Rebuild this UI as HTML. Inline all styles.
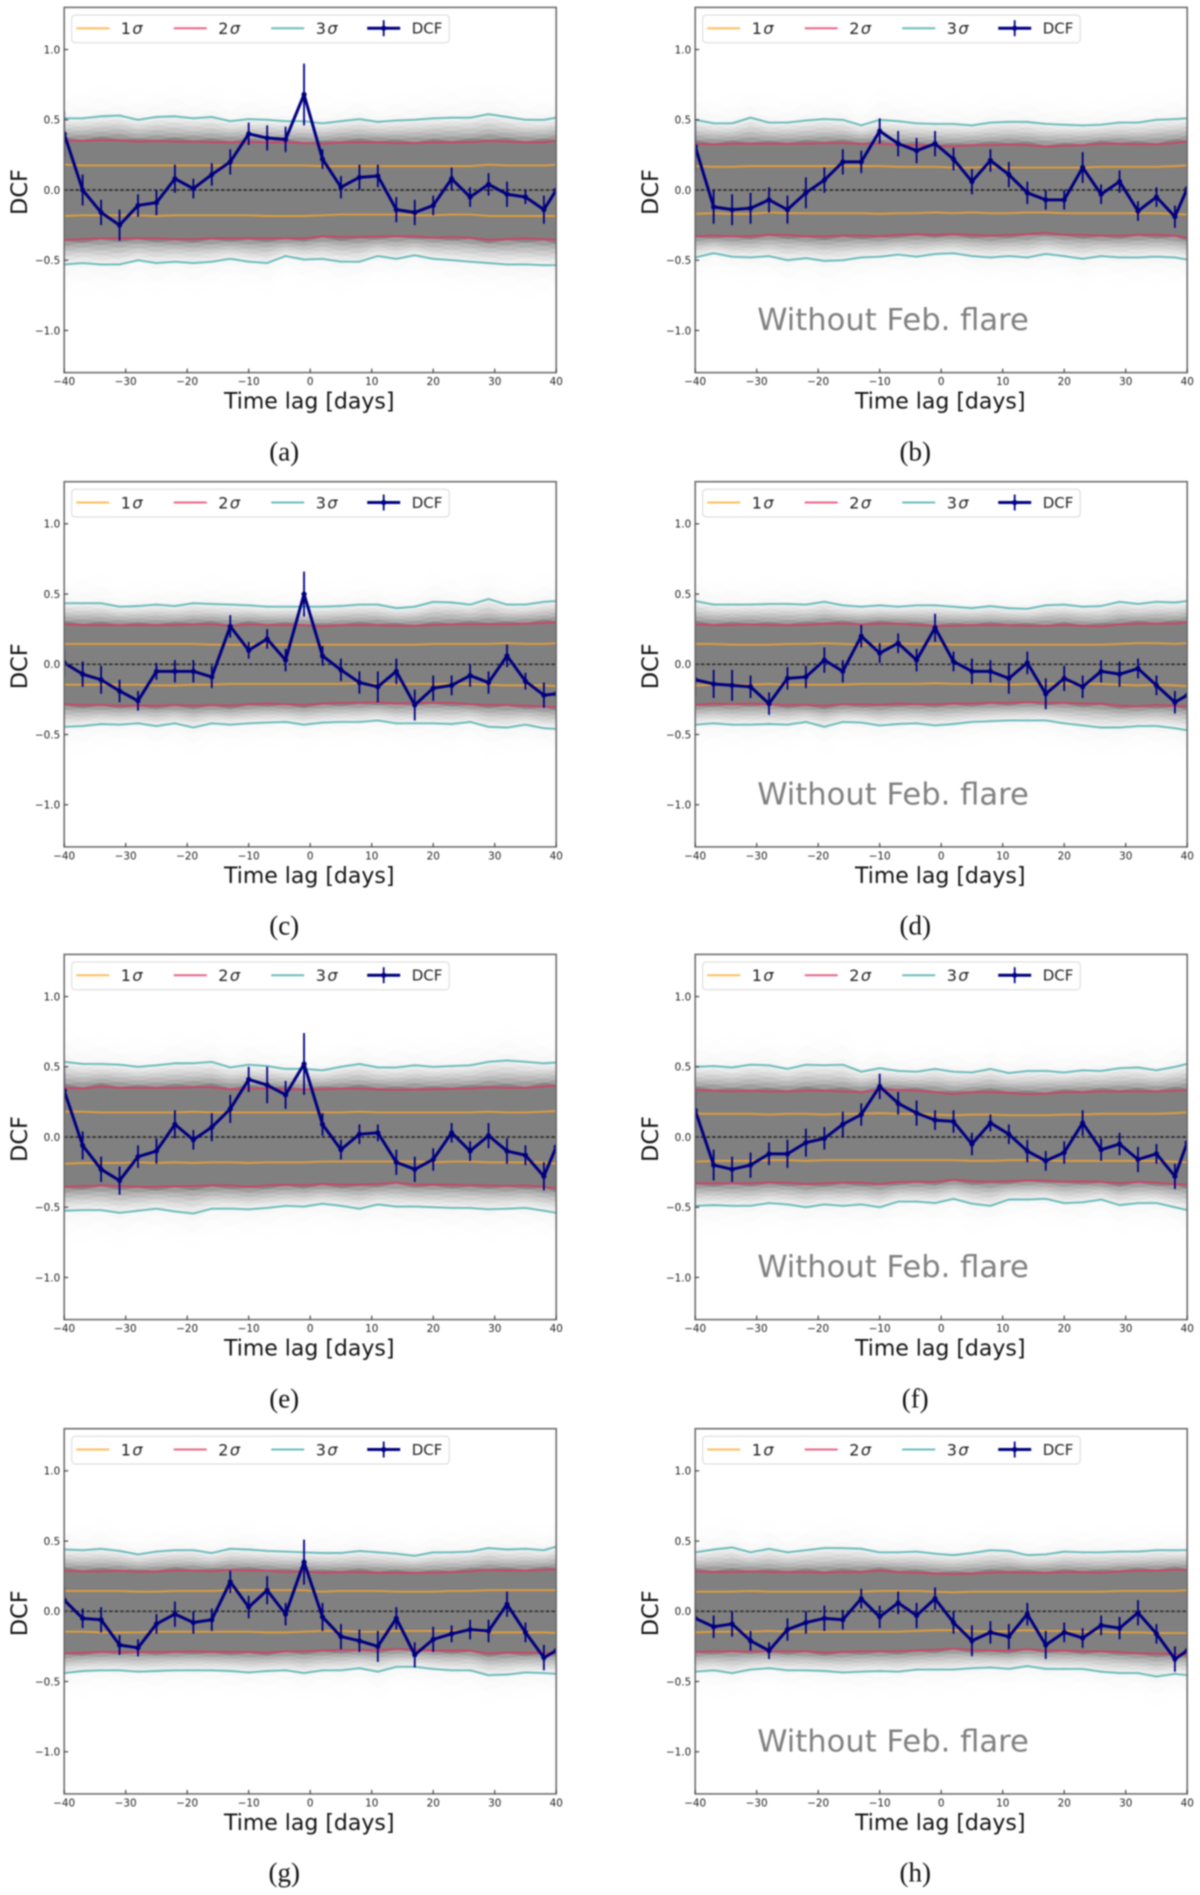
<!DOCTYPE html>
<html lang="en">
<head>
<meta charset="utf-8">
<title>DCF panels</title>
<style>
html,body{margin:0;padding:0;background:#fff;}
svg{display:block;filter:blur(0.7px);}
text{font-family:"DejaVu Sans","Liberation Sans",sans-serif;}
</style>
</head>
<body>
<svg id="fig" xmlns="http://www.w3.org/2000/svg" width="1200" height="1895" viewBox="0 0 1200 1895"></svg>
<script>
const lags=[-40,-37,-34,-31,-28,-25,-22,-19,-16,-13,-10,-7,-4,-1,2,5,8,11,14,17,20,23,26,29,32,35,38,40];
const xTicks=[-40,-30,-20,-10,0,10,20,30,40];
const yTicks=[-1,-0.5,0,0.5,1];
const yTickLabels=['\u22121.0','\u22120.5','0.0','0.5','1.0'];
const xLimits=[-40,40];
const yLimits=[-1.3,1.3];

const dcfA=[.40,0,-.16,-.25,-.11,-.09,.08,.01,.11,.20,.40,.37,.36,.68,.22,.02,.09,.10,-.14,-.16,-.11,.08,-.05,.04,-.03,-.05,-.14,0];
const errA=[.16,.11,.09,.11,.08,.09,.10,.07,.08,.09,.08,.09,.09,.22,.07,.08,.09,.08,.09,.09,.07,.08,.07,.08,.09,.05,.10,0];
const s3upA=[.51,.51,.525,.53,.50,.52,.525,.51,.52,.49,.505,.50,.49,.49,.475,.49,.505,.485,.495,.50,.51,.515,.515,.54,.52,.50,.50,.515];
const s3loA=[-.53,-.52,-.53,-.53,-.50,-.52,-.51,-.52,-.51,-.49,-.51,-.52,-.47,-.495,-.49,-.51,-.51,-.47,-.49,-.465,-.49,-.50,-.51,-.52,-.53,-.53,-.535,-.535];
const s2upA=[.35,.35,.355,.355,.345,.35,.345,.345,.34,.34,.34,.34,.34,.335,.33,.34,.34,.34,.335,.335,.34,.34,.34,.35,.345,.34,.34,.35];
const s2loA=[-.355,-.35,-.345,-.345,-.345,-.345,-.35,-.35,-.345,-.345,-.345,-.345,-.345,-.345,-.33,-.335,-.335,-.33,-.33,-.33,-.34,-.335,-.34,-.355,-.35,-.345,-.35,-.355];
const s1upA=[.18,.175,.175,.175,.175,.175,.175,.175,.175,.175,.175,.175,.175,.175,.17,.17,.17,.17,.17,.17,.17,.17,.17,.18,.175,.175,.175,.18];
const s1loA=[-.185,-.18,-.18,-.18,-.18,-.185,-.18,-.18,-.18,-.18,-.18,-.185,-.185,-.185,-.18,-.175,-.175,-.175,-.175,-.18,-.18,-.175,-.175,-.185,-.185,-.185,-.185,-.185];

const dcfB=[.31,-.12,-.14,-.13,-.07,-.14,-.02,.07,.20,.20,.42,.33,.28,.33,.22,.06,.21,.11,-.02,-.07,-.07,.16,-.03,.06,-.15,-.05,-.19,.01];
const errB=[.18,.12,.11,.11,.09,.10,.11,.09,.09,.08,.09,.09,.09,.09,.08,.09,.08,.09,.08,.07,.07,.11,.07,.08,.07,.07,.08,0];
const s3upB=[.50,.475,.475,.515,.48,.48,.495,.505,.50,.46,.50,.49,.475,.47,.47,.46,.48,.485,.485,.47,.465,.46,.465,.48,.48,.50,.505,.51];
const s3loB=[-.48,-.45,-.475,-.48,-.47,-.50,-.485,-.505,-.50,-.48,-.475,-.46,-.475,-.455,-.45,-.47,-.48,-.47,-.48,-.455,-.47,-.49,-.47,-.48,-.48,-.475,-.48,-.495];
const s2upB=[.33,.325,.33,.33,.33,.33,.33,.335,.335,.33,.33,.32,.32,.315,.31,.32,.32,.325,.32,.31,.315,.32,.33,.33,.325,.325,.335,.345];
const s2loB=[-.33,-.325,-.33,-.33,-.32,-.32,-.33,-.33,-.325,-.325,-.33,-.32,-.315,-.32,-.315,-.32,-.325,-.32,-.315,-.305,-.32,-.32,-.325,-.325,-.32,-.32,-.325,-.34];
const s1upB=[.17,.165,.165,.17,.17,.17,.17,.17,.17,.17,.17,.165,.165,.165,.16,.16,.165,.16,.16,.16,.16,.16,.165,.165,.165,.165,.17,.175];
const s1loB=[-.17,-.165,-.17,-.17,-.16,-.165,-.165,-.165,-.165,-.165,-.17,-.165,-.165,-.16,-.165,-.16,-.165,-.165,-.16,-.16,-.165,-.165,-.165,-.165,-.165,-.165,-.17,-.175];

const dcfC=[.01,-.07,-.11,-.19,-.26,-.05,-.05,-.05,-.09,.27,.10,.18,.03,.50,.06,-.04,-.13,-.16,-.05,-.29,-.17,-.15,-.08,-.13,.06,-.12,-.22,-.21];
const errC=[.10,.09,.10,.08,.07,.06,.08,.08,.08,.08,.06,.07,.08,.16,.07,.08,.08,.11,.09,.11,.09,.07,.08,.08,.08,.06,.09,0];
const s3upC=[.435,.435,.435,.41,.415,.425,.415,.435,.43,.425,.42,.41,.41,.41,.41,.415,.425,.425,.40,.41,.445,.44,.425,.465,.425,.425,.445,.45];
const s3loC=[-.445,-.44,-.425,-.43,-.42,-.44,-.42,-.45,-.42,-.43,-.42,-.415,-.41,-.43,-.415,-.41,-.41,-.40,-.42,-.42,-.42,-.425,-.41,-.445,-.45,-.43,-.455,-.46];
const s2upC=[.285,.28,.28,.28,.28,.28,.28,.285,.285,.275,.285,.28,.28,.28,.27,.28,.28,.28,.275,.275,.28,.285,.285,.285,.285,.29,.295,.30];
const s2loC=[-.285,-.29,-.29,-.295,-.295,-.295,-.29,-.295,-.29,-.295,-.285,-.28,-.285,-.29,-.28,-.275,-.275,-.27,-.28,-.275,-.275,-.275,-.285,-.29,-.29,-.295,-.30,-.305];
const s1upC=[.145,.145,.145,.145,.145,.145,.145,.145,.14,.14,.14,.14,.14,.14,.14,.14,.14,.14,.14,.14,.145,.145,.145,.145,.15,.145,.145,.15];
const s1loC=[-.145,-.145,-.145,-.145,-.145,-.15,-.15,-.145,-.145,-.14,-.14,-.14,-.14,-.14,-.14,-.14,-.135,-.14,-.14,-.14,-.14,-.14,-.14,-.145,-.15,-.15,-.15,-.155];

const dcfD=[-.11,-.14,-.15,-.16,-.28,-.10,-.09,.03,-.05,.20,.08,.15,.03,.26,.02,-.05,-.05,-.10,.01,-.21,-.10,-.16,-.05,-.07,-.03,-.15,-.27,-.22];
const errD=[.12,.10,.11,.08,.08,.08,.08,.09,.08,.08,.07,.07,.08,.10,.07,.09,.08,.11,.08,.11,.09,.08,.08,.09,.07,.07,.08,0];
const s3upD=[.45,.425,.425,.425,.43,.43,.425,.445,.42,.41,.42,.41,.42,.42,.41,.40,.415,.40,.395,.42,.425,.41,.415,.445,.43,.445,.44,.45];
const s3loD=[-.43,-.42,-.43,-.43,-.425,-.43,-.41,-.445,-.41,-.415,-.435,-.425,-.42,-.435,-.425,-.41,-.405,-.40,-.40,-.40,-.42,-.435,-.45,-.45,-.44,-.44,-.455,-.47];
const s2upD=[.285,.28,.28,.285,.28,.28,.28,.29,.29,.285,.29,.29,.28,.275,.275,.28,.28,.28,.275,.275,.28,.275,.27,.285,.29,.29,.29,.30];
const s2loD=[-.29,-.28,-.285,-.28,-.285,-.29,-.29,-.295,-.285,-.285,-.29,-.28,-.285,-.285,-.28,-.28,-.275,-.275,-.27,-.275,-.275,-.28,-.28,-.295,-.30,-.29,-.295,-.30];
const s1upD=[.145,.145,.14,.14,.14,.145,.145,.15,.145,.14,.145,.145,.145,.145,.14,.14,.14,.14,.14,.14,.14,.14,.14,.145,.15,.15,.145,.15];
const s1loD=[-.15,-.145,-.145,-.145,-.14,-.145,-.145,-.145,-.145,-.14,-.14,-.14,-.14,-.135,-.14,-.14,-.14,-.145,-.14,-.14,-.14,-.14,-.14,-.145,-.15,-.145,-.15,-.155];

const dcfE=[.33,-.06,-.23,-.31,-.14,-.10,.09,-.02,.07,.20,.41,.37,.30,.52,.09,-.09,.02,.03,-.18,-.23,-.16,.03,-.10,.01,-.10,-.13,-.28,-.07];
const errE=[.16,.10,.09,.10,.08,.09,.10,.07,.10,.10,.09,.13,.10,.22,.08,.07,.07,.06,.09,.09,.08,.07,.07,.09,.09,.07,.10,0];
const s3upE=[.535,.52,.52,.515,.50,.51,.525,.525,.535,.495,.515,.505,.485,.485,.475,.50,.52,.495,.495,.51,.50,.505,.51,.535,.545,.535,.525,.53];
const s3loE=[-.525,-.52,-.52,-.54,-.525,-.51,-.53,-.545,-.51,-.51,-.515,-.505,-.49,-.495,-.475,-.49,-.51,-.48,-.495,-.495,-.50,-.505,-.505,-.515,-.51,-.505,-.525,-.54];
const s2upE=[.35,.345,.36,.35,.35,.35,.35,.355,.355,.34,.345,.345,.34,.34,.34,.345,.345,.34,.335,.34,.34,.345,.345,.355,.35,.35,.36,.365];
const s2loE=[-.355,-.35,-.345,-.35,-.355,-.355,-.35,-.35,-.345,-.345,-.355,-.345,-.34,-.345,-.335,-.34,-.34,-.335,-.325,-.34,-.34,-.34,-.345,-.345,-.35,-.345,-.355,-.365];
const s1upE=[.18,.18,.175,.175,.175,.175,.175,.18,.175,.175,.175,.175,.175,.175,.175,.175,.18,.175,.175,.175,.175,.175,.175,.18,.175,.175,.18,.185];
const s1loE=[-.19,-.185,-.185,-.185,-.18,-.185,-.18,-.185,-.18,-.18,-.185,-.18,-.18,-.18,-.175,-.175,-.175,-.175,-.175,-.175,-.18,-.175,-.175,-.18,-.18,-.18,-.18,-.19];

const dcfF=[.19,-.20,-.23,-.20,-.12,-.12,-.04,-.01,.09,.16,.36,.24,.17,.12,.11,-.05,.10,.02,-.10,-.17,-.11,.10,-.09,-.05,-.16,-.12,-.28,-.04];
const errF=[.14,.11,.09,.09,.08,.10,.10,.08,.09,.08,.09,.08,.09,.07,.08,.08,.06,.07,.08,.07,.08,.09,.08,.08,.09,.07,.09,0];
const s3upF=[.50,.505,.495,.515,.51,.485,.515,.51,.515,.465,.49,.47,.465,.485,.465,.46,.485,.455,.47,.47,.46,.475,.47,.49,.495,.475,.50,.52];
const s3loF=[-.49,-.485,-.49,-.49,-.47,-.48,-.50,-.48,-.49,-.48,-.50,-.46,-.46,-.47,-.44,-.475,-.49,-.445,-.445,-.44,-.47,-.465,-.445,-.485,-.47,-.47,-.50,-.52];
const s2upF=[.335,.33,.325,.33,.325,.325,.33,.33,.325,.32,.335,.335,.33,.32,.305,.32,.32,.315,.305,.31,.32,.32,.325,.325,.325,.325,.33,.335];
const s2loF=[-.33,-.33,-.33,-.33,-.325,-.325,-.335,-.33,-.325,-.325,-.335,-.32,-.32,-.32,-.305,-.315,-.32,-.315,-.31,-.31,-.32,-.315,-.32,-.33,-.32,-.325,-.335,-.34];
const s1upF=[.165,.165,.165,.165,.16,.165,.165,.16,.165,.165,.17,.165,.165,.16,.155,.16,.16,.155,.155,.155,.16,.16,.165,.165,.165,.165,.17,.175];
const s1loF=[-.175,-.17,-.17,-.17,-.165,-.165,-.17,-.165,-.165,-.165,-.165,-.165,-.165,-.165,-.165,-.17,-.17,-.165,-.165,-.165,-.17,-.17,-.17,-.17,-.17,-.17,-.175,-.18];

const dcfG=[.08,-.05,-.06,-.24,-.26,-.09,-.02,-.08,-.06,.21,.03,.15,-.02,.35,-.04,-.18,-.21,-.25,-.05,-.31,-.20,-.16,-.13,-.14,.05,-.15,-.33,-.28];
const errG=[.10,.07,.09,.07,.06,.07,.09,.08,.08,.08,.08,.10,.08,.16,.10,.09,.08,.11,.08,.09,.09,.06,.07,.08,.09,.07,.09,0];
const s3upG=[.44,.435,.445,.43,.405,.425,.435,.435,.415,.445,.44,.43,.425,.42,.415,.415,.43,.42,.41,.395,.42,.42,.425,.45,.44,.445,.435,.46];
const s3loG=[-.44,-.425,-.42,-.42,-.43,-.425,-.42,-.42,-.42,-.425,-.435,-.425,-.42,-.44,-.42,-.42,-.405,-.43,-.395,-.395,-.41,-.42,-.42,-.455,-.45,-.435,-.44,-.445];
const s2upG=[.29,.285,.285,.29,.28,.285,.29,.29,.285,.295,.29,.29,.28,.285,.275,.28,.28,.275,.275,.275,.275,.28,.285,.295,.29,.29,.295,.30];
const s2loG=[-.30,-.295,-.29,-.29,-.29,-.29,-.29,-.285,-.29,-.29,-.29,-.295,-.285,-.285,-.28,-.275,-.275,-.275,-.27,-.27,-.28,-.28,-.28,-.30,-.295,-.295,-.295,-.30];
const s1upG=[.145,.145,.145,.145,.14,.14,.145,.145,.145,.15,.15,.15,.15,.15,.14,.145,.145,.145,.14,.14,.14,.145,.145,.15,.15,.15,.15,.15];
const s1loG=[-.145,-.145,-.15,-.15,-.15,-.145,-.145,-.145,-.145,-.145,-.145,-.15,-.15,-.145,-.14,-.14,-.145,-.145,-.14,-.14,-.14,-.14,-.14,-.15,-.15,-.15,-.15,-.155];

const dcfH=[-.05,-.11,-.09,-.21,-.28,-.13,-.08,-.05,-.06,.09,-.04,.06,-.03,.09,-.08,-.21,-.15,-.18,-.02,-.24,-.15,-.19,-.10,-.12,-.01,-.16,-.34,-.28];
const errH=[.08,.08,.09,.07,.06,.08,.08,.09,.07,.07,.08,.08,.09,.08,.08,.11,.08,.09,.08,.10,.07,.07,.07,.08,.09,.07,.09,0];
const s3upH=[.42,.44,.455,.42,.445,.42,.435,.45,.45,.445,.42,.42,.425,.41,.40,.415,.435,.43,.40,.405,.425,.42,.42,.425,.425,.435,.435,.435];
const s3loH=[-.43,-.42,-.44,-.415,-.405,-.42,-.42,-.425,-.435,-.43,-.425,-.43,-.415,-.415,-.415,-.405,-.40,-.41,-.39,-.41,-.41,-.41,-.43,-.44,-.44,-.465,-.445,-.455];
const s2upH=[.285,.28,.28,.285,.28,.28,.28,.275,.28,.28,.29,.28,.275,.27,.265,.27,.275,.28,.275,.275,.28,.28,.275,.285,.29,.29,.295,.295];
const s2loH=[-.29,-.285,-.285,-.285,-.285,-.285,-.285,-.295,-.29,-.285,-.285,-.285,-.28,-.275,-.265,-.275,-.28,-.28,-.27,-.28,-.28,-.285,-.285,-.29,-.30,-.30,-.305,-.31];
const s1upH=[.14,.14,.14,.145,.14,.14,.14,.14,.14,.14,.145,.145,.145,.14,.135,.14,.14,.14,.14,.14,.14,.14,.14,.145,.145,.145,.145,.15];
const s1loH=[-.15,-.145,-.145,-.145,-.14,-.145,-.145,-.145,-.145,-.145,-.145,-.145,-.14,-.135,-.135,-.14,-.145,-.14,-.135,-.14,-.14,-.145,-.145,-.15,-.15,-.155,-.155,-.155];

/* simulated-curve envelope: how far each translucent layer reaches past 2 sigma (1 = at 3 sigma), its opacity, and a by-eye ripple */
const fanReach=[2.2,1.9,1.6,1.35,1.15,1.0,.9,.8,.7,.6,.5,.4,.3,.2,.1];
const fanOpacity=[.006,.008,.01,.012,.018,.03,.05,.07,.08,.09,.1,.12,.16,.25,.5];
const fanRipple=[.02,-.018,.024,-.016,.02,-.022,.017,-.02,.023,-.017,.019,-.021,.024,-.016,.02,-.018,.021,-.022,.017,-.02,.024,-.017,.021,-.018,.023,-.016,.02,-.021];

const panels=[
 {id:'a',dcf:dcfA,err:errA,s3u:s3upA,s3l:s3loA,s2u:s2upA,s2l:s2loA,s1u:s1upA,s1l:s1loA,flare:false},
 {id:'b',dcf:dcfB,err:errB,s3u:s3upB,s3l:s3loB,s2u:s2upB,s2l:s2loB,s1u:s1upB,s1l:s1loB,flare:true},
 {id:'c',dcf:dcfC,err:errC,s3u:s3upC,s3l:s3loC,s2u:s2upC,s2l:s2loC,s1u:s1upC,s1l:s1loC,flare:false},
 {id:'d',dcf:dcfD,err:errD,s3u:s3upD,s3l:s3loD,s2u:s2upD,s2l:s2loD,s1u:s1upD,s1l:s1loD,flare:true},
 {id:'e',dcf:dcfE,err:errE,s3u:s3upE,s3l:s3loE,s2u:s2upE,s2l:s2loE,s1u:s1upE,s1l:s1loE,flare:false},
 {id:'f',dcf:dcfF,err:errF,s3u:s3upF,s3l:s3loF,s2u:s2upF,s2l:s2loF,s1u:s1upF,s1l:s1loF,flare:true},
 {id:'g',dcf:dcfG,err:errG,s3u:s3upG,s3l:s3loG,s2u:s2upG,s2l:s2loG,s1u:s1upG,s1l:s1loG,flare:false},
 {id:'h',dcf:dcfH,err:errH,s3u:s3upH,s3l:s3loH,s2u:s2upH,s2l:s2loH,s1u:s1upH,s1l:s1loH,flare:true}
];

const NS='http://www.w3.org/2000/svg';
const svg=document.getElementById('fig');
const rowTops=[7.4,481.7,954.4,1428.7];
const colLefts=[64.2,695.2];
const PW=492,PH=365.2;
const C1='#ffa726',C2='#e3325f',C3='#3aa5a5',NAVY='#000080';

function mk(tag,attrs,parent,txt){
  const n=document.createElementNS(NS,tag);
  for(const k in attrs){n.setAttribute(k,attrs[k]);}
  if(txt!==undefined){n.textContent=txt;}
  parent.appendChild(n);
  return n;
}

panels.forEach(function(p,idx){
  const x0=colLefts[idx%2];
  const top=rowTops[Math.floor(idx/2)];
  const sx=function(v){return x0+(v-xLimits[0])/(xLimits[1]-xLimits[0])*PW;};
  const sy=function(v){return top+(yLimits[1]-v)/(yLimits[1]-yLimits[0])*PH;};
  const pts=function(arr){return arr.map(function(v,i){return sx(lags[i]).toFixed(2)+','+sy(v).toFixed(2);}).join(' ');};

  const g=mk('g',{},svg);
  
  

  const defs=mk('defs',{},g);
  const clip=mk('clipPath',{id:'clip-'+p.id},defs);
  mk('rect',{x:x0,y:top,width:PW,height:PH},clip);

  const plot=mk('g',{'clip-path':'url(#clip-'+p.id+')'},g);
  
  

  /* fan of simulated curves */
  const fan=mk('g',{},plot);
  
  
  fanReach.forEach(function(t,k){
    const up=lags.map(function(l,i){return p.s2u[i]+t*(p.s3u[i]-p.s2u[i])+fanRipple[(i+k)%fanRipple.length]*(0.5+t*0.5);});
    const lo=lags.map(function(l,i){return p.s2l[i]+t*(p.s3l[i]-p.s2l[i])-fanRipple[(i+k+1)%fanRipple.length]*(0.5+t*0.5);});
    const d=pts(up)+' '+lo.map(function(v,i){return sx(lags[i]).toFixed(2)+','+sy(v).toFixed(2);}).reverse().join(' ');
    const poly=mk('polygon',{points:d,fill:'#6e6e6e','fill-opacity':fanOpacity[k]},fan);
    
    
  });
  const core=pts(p.s2u)+' '+p.s2l.map(function(v,i){return sx(lags[i]).toFixed(2)+','+sy(v).toFixed(2);}).reverse().join(' ');
  const corePoly=mk('polygon',{points:core,fill:'#808080'},fan);
  
  

  /* sigma lines */
  [[p.s1u,C1,'1-sigma-upper'],[p.s1l,C1,'1-sigma-lower'],[p.s2u,C2,'2-sigma-upper'],[p.s2l,C2,'2-sigma-lower'],[p.s3u,C3,'3-sigma-upper'],[p.s3l,C3,'3-sigma-lower']].forEach(function(s){
    const line=mk('polyline',{points:pts(s[0]),fill:'none',stroke:s[1],'stroke-width':1.9,'stroke-opacity':.75,'stroke-linejoin':'round'},plot);
    
    
  });

  /* zero line */
  const zero=mk('line',{x1:x0,x2:x0+PW,y1:sy(0),y2:sy(0),stroke:'#111','stroke-width':1.4,'stroke-dasharray':'3.6 2','stroke-opacity':.85},plot);
  
  

  /* DCF */
  const dg=mk('g',{},plot);
  
  
  p.dcf.forEach(function(v,i){
    const e=p.err[i]||0;
    if(e>0){
      const bar=mk('line',{x1:sx(lags[i]),x2:sx(lags[i]),y1:sy(v-e),y2:sy(v+e),stroke:NAVY,'stroke-width':1.8},dg);
      
      
    }
  });
  const dl=mk('polyline',{points:pts(p.dcf),fill:'none',stroke:NAVY,'stroke-width':3,'stroke-linejoin':'round'},dg);
  
  
  p.dcf.forEach(function(v,i){
    const dot=mk('circle',{cx:sx(lags[i]),cy:sy(v),r:2.6,fill:NAVY},dg);
    
    
  });

  /* annotation */
  if(p.flare){
    const note=mk('text',{x:x0+62,y:sy(-1)-0.5,'font-size':30.6,fill:'#808080'},g,'Without Feb. flare');
    
    
  }

  /* frame */
  const frame=mk('rect',{x:x0,y:top,width:PW,height:PH,fill:'none',stroke:'#666','stroke-width':1.5},g);
  
  

  /* ticks */
  xTicks.forEach(function(t){
    const tk=mk('line',{x1:sx(t),x2:sx(t),y1:top+PH,y2:top+PH-4,stroke:'#444','stroke-width':1.2},g);
    
    
    const lb=mk('text',{x:sx(t),y:top+PH+12.5,'font-size':10.4,fill:'#222','text-anchor':'middle'},g,String(t).replace('-','\u2212'));
    
    
  });
  yTicks.forEach(function(t,i){
    const tk=mk('line',{x1:x0,x2:x0+4,y1:sy(t),y2:sy(t),stroke:'#444','stroke-width':1.2},g);
    
    
    const lb=mk('text',{x:x0-4,y:sy(t)+3.8,'font-size':10.4,fill:'#222','text-anchor':'end'},g,yTickLabels[i]);
    
    
  });

  /* axis titles */
  const xt=mk('text',{x:x0+PW/2-1,y:top+PH+36,'font-size':22,fill:'#111','text-anchor':'middle'},g,'Time lag [days]');
  
  
  const yx=x0-37,yy=top+PH/2+2;
  const yt=mk('text',{x:yx,y:yy,'font-size':22.5,fill:'#111','text-anchor':'middle',transform:'rotate(-90 '+yx+' '+yy+')'},g,'DCF');
  
  

  /* legend */
  const lg=mk('g',{},g);
  
  
  const box=mk('rect',{x:x0+7.5,y:top+7.6,width:377.5,height:27.7,rx:3.5,fill:'#fff','fill-opacity':.9,stroke:'#d8d8d8','stroke-width':1},lg);
  
  
  const ly=top+20.8;
  [[12,C1,'1',56.5],[109.5,C2,'2',154],[207,C3,'3',251.5]].forEach(function(e){
    const sw=mk('line',{x1:x0+e[0],x2:x0+e[0]+33,y1:ly,y2:ly,stroke:e[1],'stroke-width':2,'stroke-opacity':.75},lg);
    
    
    const t=mk('text',{x:x0+e[3],y:ly+6,'font-size':16,fill:'#222'},lg,e[2]);
    
    
    mk('tspan',{'font-style':'italic',dx:1.5},t,'\u03c3');
  });
  const sw4=mk('line',{x1:x0+303,x2:x0+336,y1:ly,y2:ly,stroke:NAVY,'stroke-width':3},lg);
  
  
  const sw4b=mk('line',{x1:x0+319.5,x2:x0+319.5,y1:ly-8,y2:ly+8,stroke:NAVY,'stroke-width':1.8},lg);
  
  
  const sw4c=mk('circle',{cx:x0+319.5,cy:ly,r:2.6,fill:NAVY},lg);
  
  
  const t4=mk('text',{x:x0+347.5,y:ly+5.5,'font-size':15,fill:'#222'},lg,'DCF');
  
  

  /* caption */
  const cap=mk('text',{x:x0+PW/2-26,y:top+453,'font-size':27,fill:'#111','text-anchor':'middle',style:'font-family:"Liberation Serif",serif'},g,'('+p.id+')');
  
  
});
</script>
</body>
</html>
